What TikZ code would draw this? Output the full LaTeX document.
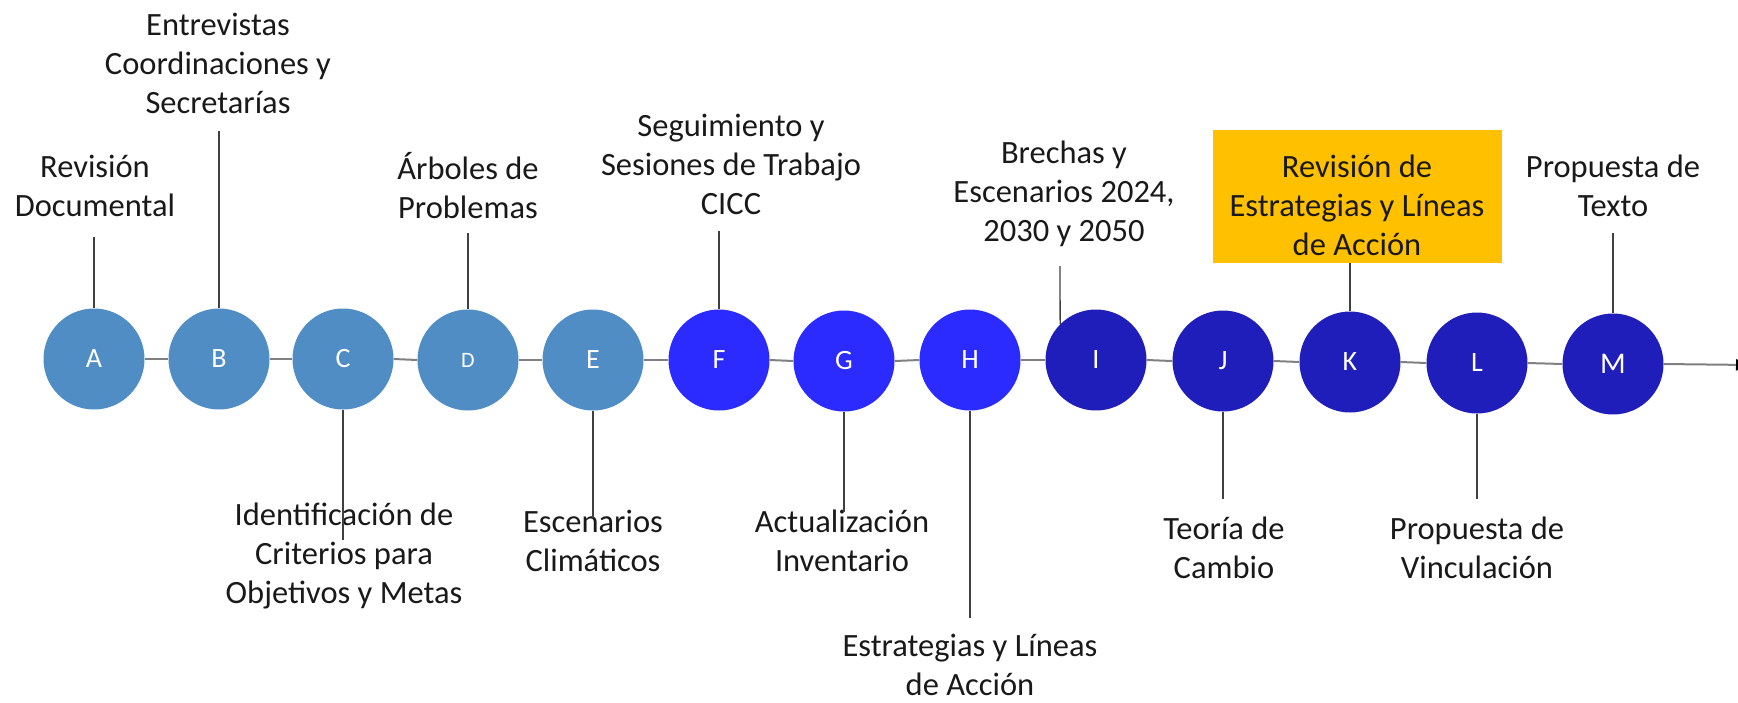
\documentclass[tikz,border=0pt]{standalone}
\usepackage{fontspec}
\setmainfont{Carlito}
\usetikzlibrary{arrows.meta}
\definecolor{cone}{RGB}{79,141,196}
\definecolor{ctwo}{RGB}{43,43,255}
\definecolor{cthree}{RGB}{32,30,186}
\definecolor{boxorange}{RGB}{255,192,0}
\definecolor{hline}{RGB}{128,128,128}
\definecolor{vline}{RGB}{64,64,64}
\begin{document}
\begin{tikzpicture}[x=1pt,y=-1pt,
  dot/.style={circle,minimum size=101pt,inner sep=0pt,text=white,font=\fontsize{28}{32}\selectfont},
  lbl/.style={align=center,inner sep=0pt,font=\fontsize{32.5}{39}\selectfont,text=black!90},
  vconn/.style={draw=vline,line width=1.3pt},
  hconn/.style={draw=hline,line width=2pt}]
\path[use as bounding box] (0,0) rectangle (1738,702);
\clip (0,0) rectangle (1738,702);

% circles
\node[dot,fill=cone] (A) at (94,359) {A};
\node[dot,fill=cone] (B) at (219,359) {B};
\node[dot,fill=cone] (C) at (343,359) {C};
\node[dot,fill=cone,font=\fontsize{22}{26}\selectfont] (D) at (468,360) {D};
\node[dot,fill=cone] (E) at (593,360) {E};
\node[dot,fill=ctwo] (F) at (719,360) {F};
\node[dot,fill=ctwo] (G) at (844,361) {G};
\node[dot,fill=ctwo] (H) at (970,360) {H};
\node[dot,fill=cthree] (I) at (1096,360) {I};
\node[dot,fill=cthree] (J) at (1223,361) {J};
\node[dot,fill=cthree] (K) at (1350,362) {K};
\node[dot,fill=cthree] (L) at (1477,363) {L};
\node[dot,fill=cthree,font=\fontsize{30}{34}\selectfont] (M) at (1613,364) {M};

% horizontal timeline
\coordinate (end) at (1750,365);
\draw[hconn] (A.east) -- (B.west);
\draw[hconn] (B.east) -- (C.west);
\draw[hconn] (C.east) -- (D.west);
\draw[hconn] (D.east) -- (E.west);
\draw[hconn] (E.east) -- (F.west);
\draw[hconn] (F.east) -- (G.west);
\draw[hconn] (G.east) -- (H.west);
\draw[hconn] (H.east) -- (I.west);
\draw[hconn] (I.east) -- (J.west);
\draw[hconn] (J.east) -- (K.west);
\draw[hconn] (K.east) -- (L.west);
\draw[hconn] (L.east) -- (M.west);
\draw[hconn,-{Triangle[length=14pt,width=11pt,color=black]}] (M.east) -- (end);

% labels
\node[lbl] (tA) at (95,186) {Revisión\\Documental};
\node[lbl] (tB) at (218,63) {Entrevistas\\Coordinaciones y\\Secretarías};
\node[lbl] (tC) at (344,556) {Identificación de\\Criterios para\\Objetivos y Metas};
\node[lbl] (tD) at (468,186) {Árboles de\\Problemas};
\node[lbl] (tE) at (593,541) {Escenarios\\Climáticos};
\node[lbl] (tF) at (731,164) {Seguimiento y\\Sesiones de Trabajo\\CICC};
\node[lbl] (tG) at (842,541) {Actualización\\Inventario};
\node[lbl] (tH) at (970,665) {Estrategias y Líneas\\de Acción};
\node[lbl] (tI) at (1064,194) {Brechas y\\Escenarios 2024,\\2030 y 2050};
\node[lbl] (tJ) at (1224,548) {Teoría de\\Cambio};
\node[fill=boxorange,minimum width=289pt,minimum height=133pt,inner sep=0pt] (boxK) at (1357,196.5) {};
\node[lbl] (tK) at (1357,205) {Revisión de\\Estrategias y Líneas\\de Acción};
\node[lbl] (tL) at (1477,548) {Propuesta de\\Vinculación};
\node[lbl] (tM) at (1613,186) {Propuesta de\\Texto};

% vertical connector free ends
\coordinate (eA) at (94,237);
\coordinate (eB) at (219,131);
\coordinate (eC) at (343,540);
\coordinate (eD) at (468,233);
\coordinate (eE) at (593,518);
\coordinate (eF) at (719,231);
\coordinate (eG) at (844,512);
\coordinate (eH) at (970,618);
\coordinate (eI) at (1060,266);
\coordinate (eJ) at (1223,499);
\coordinate (eL) at (1477,499);
\coordinate (eM) at (1613,233);

\draw[vconn] (A.north) -- (eA);
\draw[vconn] (B.north) -- (eB);
\draw[vconn] (C.south) -- (eC);
\draw[vconn] (D.north) -- (eD);
\draw[vconn] (E.south) -- (eE);
\draw[vconn] (F.north) -- (eF);
\draw[vconn] (G.south) -- (eG);
\draw[vconn] (H.south) -- (eH);
\draw[vconn] (I.north west) -- (eI);
\draw[vconn] (J.south) -- (eJ);
\draw[vconn] (K.north) -- (boxK.south -| K.north);
\draw[vconn] (L.south) -- (eL);
\draw[vconn] (M.north) -- (eM);
\end{tikzpicture}
\end{document}
